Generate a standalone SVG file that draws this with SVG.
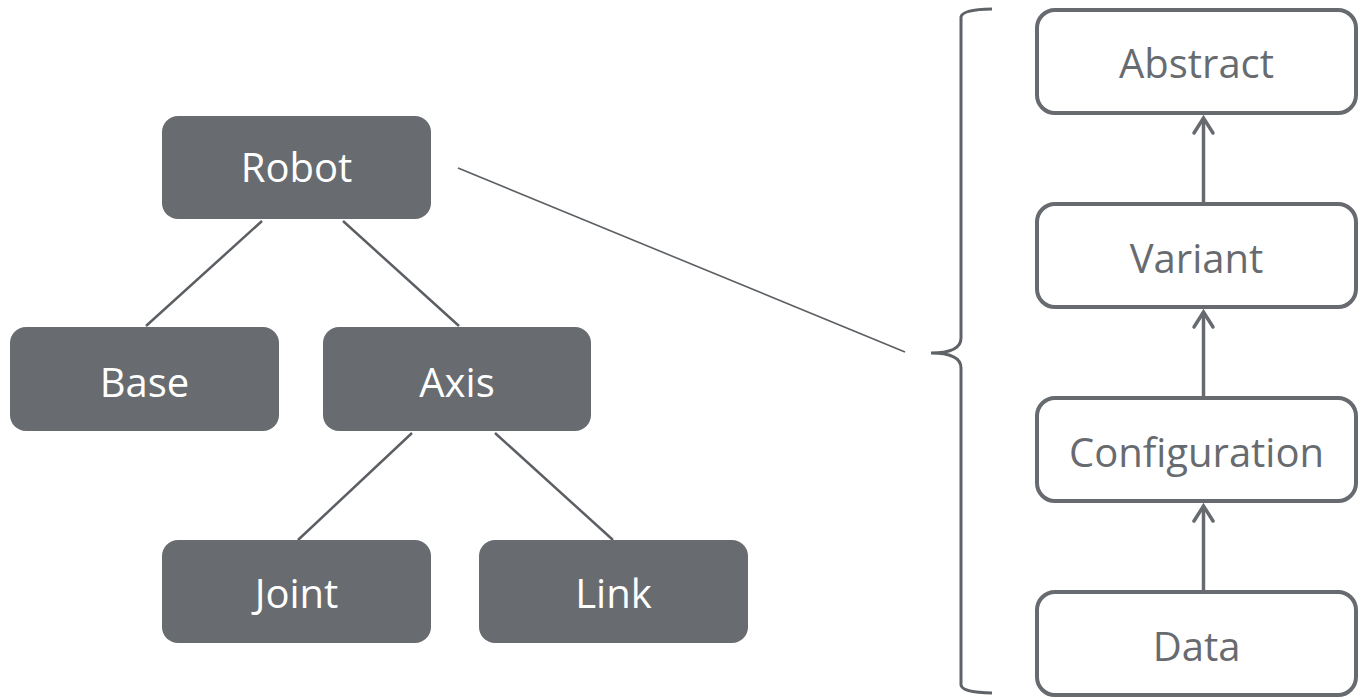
<svg xmlns="http://www.w3.org/2000/svg" width="1361" height="699" viewBox="0 0 1361 699">
  <style>
    .solid rect { fill: #686c70; }
    .solid text { fill: #ffffff; }
    .outline rect { fill: #ffffff; stroke: #676b6f; stroke-width: 4; }
    .outline text { fill: #676b6f; }
    text { font-family: "Open Sans", "Noto Sans", sans-serif; font-size: 40px; text-anchor: middle; }
    .tree line { stroke: #5b5f63; stroke-width: 2.5; }
    .flow line { stroke: #676b6f; stroke-width: 3.5; }
    .flow path { fill: none; stroke: #676b6f; stroke-width: 3.5; stroke-linecap: round; stroke-linejoin: miter; }
  </style>

  <!-- connectors -->
  <g id="connectors">
    <g class="tree">
      <line x1="262" y1="221" x2="146" y2="326"/>
      <line x1="343" y1="221" x2="459" y2="326"/>
      <line x1="412" y1="433" x2="298" y2="540"/>
      <line x1="495" y1="433" x2="613" y2="540"/>
    </g>
    <line x1="458" y1="168" x2="905" y2="352" stroke="#5b5f63" stroke-width="1.6"/>
    <path d="M992,9 Q962,9.5 961,17 L961,338 Q961,353 931,353 Q961,353 961,368 L961,685 Q962,692.5 992,693" fill="none" stroke="#5f6368" stroke-width="3"/>
    <g class="flow">
      <line x1="1203.5" y1="202" x2="1203.5" y2="119"/>
      <path d="M1194,133 L1203.5,118 L1213,133"/>
      <line x1="1203.5" y1="396" x2="1203.5" y2="313"/>
      <path d="M1194,327 L1203.5,312 L1213,327"/>
      <line x1="1203.5" y1="590" x2="1203.5" y2="507"/>
      <path d="M1194,521 L1203.5,506 L1213,521"/>
    </g>
  </g>

  <!-- tree nodes -->
  <g id="robot" class="solid">
    <rect x="162" y="116" width="269" height="103" rx="16"/>
    <text x="296.5" y="182">Robot</text>
  </g>
  <g id="base" class="solid">
    <rect x="10" y="327" width="269" height="104" rx="16"/>
    <text x="144.5" y="397">Base</text>
  </g>
  <g id="axis" class="solid">
    <rect x="323" y="327" width="268" height="104" rx="16"/>
    <text x="457" y="397">Axis</text>
  </g>
  <g id="joint" class="solid">
    <rect x="162" y="540" width="269" height="103" rx="16"/>
    <text x="296.5" y="608">Joint</text>
  </g>
  <g id="link" class="solid">
    <rect x="479" y="540" width="269" height="103" rx="16"/>
    <text x="613.5" y="608">Link</text>
  </g>

  <!-- level stack -->
  <g id="abstract" class="outline">
    <rect x="1037" y="10" width="319" height="103" rx="18"/>
    <text x="1196.5" y="78">Abstract</text>
  </g>
  <g id="variant" class="outline">
    <rect x="1037" y="204" width="319" height="103" rx="18"/>
    <text x="1196.5" y="273">Variant</text>
  </g>
  <g id="configuration" class="outline">
    <rect x="1037" y="398" width="319" height="103" rx="18"/>
    <text x="1196.5" y="467">Configuration</text>
  </g>
  <g id="data" class="outline">
    <rect x="1037" y="592" width="319" height="103" rx="18"/>
    <text x="1196.5" y="661">Data</text>
  </g>
</svg>
